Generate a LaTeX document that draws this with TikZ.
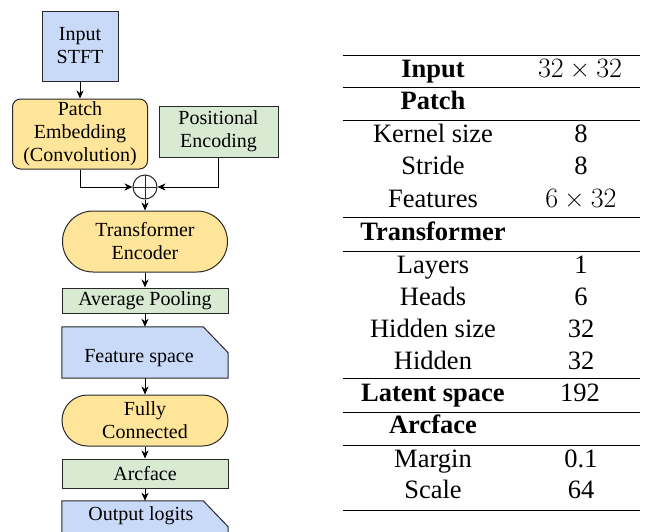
\documentclass[tikz,border=0pt]{standalone}
\usepackage{amsmath,amssymb}
\usepackage{fontspec}
\setmainfont{Liberation Serif}
\usepackage{tikz}
\usetikzlibrary{shapes.misc}
\usetikzlibrary{arrows.meta}

\definecolor{blockblue}{RGB}{201,218,248}
\definecolor{blockyellow}{RGB}{255,229,153}
\definecolor{blockgreen}{RGB}{217,234,211}
\definecolor{blockedge}{RGB}{40,40,40}
\newfontfamily\dimsfont{Latin Modern Roman}
\newcommand{\dims}[2]{{\dimsfont\fontsize{28}{30}\selectfont #1\hspace{0.222em}×\hspace{0.222em}#2}}

\begin{document}
\begin{tikzpicture}[x=1pt,y=-1pt,
                    every node/.style={font=\fontsize{20}{23}\selectfont},
                    block/.style={draw=blockedge,line width=1pt,align=center,inner sep=0pt},
                    bluebox/.style={block,fill=blockblue},
                    greenbox/.style={block,fill=blockgreen},
                    yellowbox/.style={block,fill=blockyellow,rounded corners=8pt},
                    pill/.style={block,fill=blockyellow,rounded rectangle},
                    cardnode/.style={inner sep=0pt,minimum width=166pt},
                    card/.style={draw=blockedge,line width=1pt,fill=blockblue},
                    arr/.style={-{Stealth[length=8pt,width=7pt,inset=2.5pt]},line width=0.9pt},
                    tabrule/.style={line width=1pt},
                    tabcell/.style={anchor=base,inner sep=0pt,font=\fontsize{26.5}{30}\selectfont},
                    tabhead/.style={tabcell,font=\fontsize{26.5}{30}\selectfont\bfseries}]
                    \useasboundingbox (0,0) rectangle (646,531);
                    % left: the network
                    \node[bluebox,minimum width=76pt,minimum height=70pt] (input) at (80,46) {Input\\STFT};
                    \node[yellowbox,minimum width=135pt,minimum height=70pt] (patch) at (80,134) {Patch\\Embedding\\(Convolution)};
                    \node[greenbox,minimum width=119pt,minimum height=51pt] (posenc) at (218.5,131.5) {Positional\\Encoding};
                    \node[draw=blockedge,line width=1pt,circle,minimum size=24pt,inner sep=0pt,
                          path picture={\draw[line width=1pt] (path picture bounding box.north) -- (path picture bounding box.south)
                                        (path picture bounding box.west) -- (path picture bounding box.east);}] (plus) at (145,187) {};
                    \node[pill,minimum width=165pt,minimum height=61pt] (trans) at (145,241.5) {Transformer\\Encoder};
                    \node[greenbox,minimum width=166pt,minimum height=25pt] (pool) at (145,300.5) {Average Pooling};
                    \node[cardnode,minimum height=51pt] (feat) at (145,352.5) {};
                    \draw[card] (feat.south west) -- (feat.north west) -- ([xshift=-25pt]feat.north east)
                                -- ([yshift=-26pt]feat.north east) -- (feat.south east) -- cycle;
                    \node (featlbl) at (139,358) {Feature space};
                    \node[pill,minimum width=166pt,minimum height=51pt] (fc) at (145,420.5) {Fully\\Connected};
                    \node[greenbox,minimum width=166pt,minimum height=29pt] (arc) at (145,473.5) {Arcface};
                    \node[cardnode,minimum height=36pt] (outp) at (145,519) {};
                    \draw[card] (outp.south west) -- (outp.north west) -- ([xshift=-25pt]outp.north east)
                                -- ([yshift=-26pt]outp.north east) -- (outp.south east) -- cycle;
                    \node (outlbl) at (141,516) {Output logits};
                    \draw[arr] (input.south) -- (patch.north);
                    \draw[arr] (patch.south) |- (plus.west);
                    \draw[arr] (posenc.south) |- (plus.east);
                    \draw[arr] (plus.south) -- (trans.north);
                    \draw[arr] (trans.south) -- (pool.north);
                    \draw[arr] (pool.south) -- (feat.north);
                    \draw[arr] (feat.south) -- (fc.north);
                    \draw[arr] (fc.south) -- (arc.north);
                    \draw[arr] (arc.south) -- (outp.north);
                    % right: the table
                    \foreach \ry in {55,87,120,217,251,378,412,445,510}
                        \draw[tabrule] (343,\ry) -- (640,\ry);
                    \foreach \ry/\key in {109/Patch,240/Transformer,433/Arcface}
                        \node[tabhead] (h\ry) at (433,\ry) {\key};
                    \foreach \ry/\key/\val in {77/Input/\dims{32}{32},401/Latent space/192}{
                        \node[tabhead] (h\ry) at (433,\ry) {\key};
                        \node[tabcell] (v\ry) at (580,\ry) {\val};
                    }
                    \foreach \ry/\key/\val in {142/Kernel size/8,174.5/Stride/8,207/Features/\dims{6}{32},
                                               273/Layers/1,305/Heads/6,337/Hidden size/32,369/Hidden/32,
                                               467/Margin/0.1,498/Scale/64}{
                        \node[tabcell] (k\ry) at (433,\ry) {\key};
                        \node[tabcell] (v\ry) at (581,\ry) {\val};
                    }
                \end{tikzpicture}
\end{document}
